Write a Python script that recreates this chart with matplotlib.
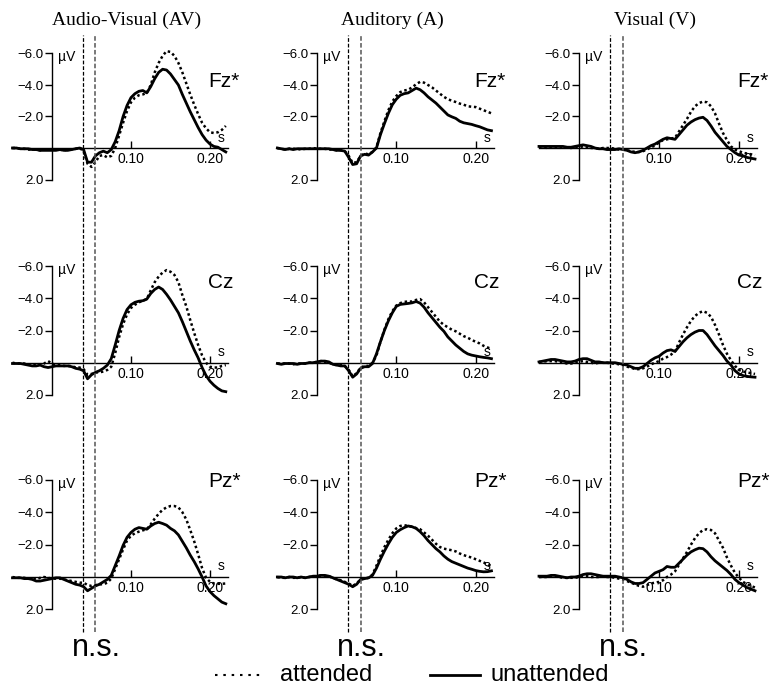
import matplotlib
matplotlib.use('Agg')
import matplotlib.pyplot as plt
import numpy as np
from matplotlib import font_manager as fm
from matplotlib.lines import Line2D
from matplotlib.transforms import blended_transform_factory

avail = {f.name for f in fm.fontManager.ttflist}
SANS = 'Liberation Sans Narrow' if 'Liberation Sans Narrow' in avail else 'Liberation Sans'
SERIF = 'Liberation Serif'

# ---------------- data ----------------
time_s = np.round(np.arange(-0.05, 0.2201, 0.005), 3)  # sample times (s)

conditions = ['Audio-Visual (AV)', 'Auditory (A)', 'Visual (V)']
electrodes = ['Fz*', 'Cz', 'Pz*']
y_ticks = [-6, -4, -2, 2]
y_tick_labels = ['\u22126.0', '\u22124.0', '\u22122.0', '2.0']
x_ticks = [0.10, 0.20]
x_tick_labels = ['0.10', '0.20']
window_s = [0.039, 0.055]
legend_labels = ['attended', 'unattended']

# AV
av_fz_att = [0.0, 0.0, 0.05, 0.05, 0.1, 0.1, 0.1, 0.15, 0.1, 0.1, 0.1, 0.1, 0.1, 0.15, 0.1, 0.1, 0.05, 0.0,
             0.2, 1.0, 1.2, 0.9, 0.5, 0.45, 0.6, 0.5, 0.0, -0.8, -1.6, -2.35, -2.9, -3.2, -3.35, -3.4, -3.5,
             -4.0, -4.8, -5.4, -5.85, -6.15, -6.1, -5.85, -5.4, -4.8, -4.1, -3.4, -2.75, -2.15, -1.6, -1.25,
             -1.0, -0.95, -1.0, -1.15, -1.4]
av_fz_unatt = [0.0, 0.0, 0.05, 0.05, 0.05, 0.1, 0.1, 0.15, 0.15, 0.15, 0.15, 0.15, 0.1, 0.15, 0.15, 0.1, 0.05,
               0.0, 0.1, 0.9, 0.9, 0.5, 0.3, 0.2, 0.3, 0.1, -0.4, -1.1, -2.0, -2.7, -3.2, -3.45, -3.6, -3.65,
               -3.5, -3.9, -4.4, -4.8, -5.0, -4.95, -4.7, -4.35, -4.0, -3.4, -2.85, -2.3, -1.8, -1.3, -0.85,
               -0.5, -0.25, -0.1, -0.05, 0.1, 0.25]
av_cz_att = [0.0, 0.05, 0.05, 0.05, 0.1, 0.1, 0.15, 0.1, 0.05, -0.1, 0.05, 0.15, 0.15, 0.2, 0.2, 0.2, 0.3, 0.3,
             0.4, 0.75, 0.7, 0.6, 0.6, 0.55, 0.45, 0.25, -0.6, -1.6, -2.4, -3.0, -3.4, -3.6, -3.75, -3.85,
             -3.95, -4.5, -5.0, -5.35, -5.6, -5.75, -5.65, -5.45, -5.0, -4.2, -3.5, -2.65, -1.85, -1.1, -0.45,
             0.0, 0.25, 0.3, 0.3, 0.2, 0.15]
av_cz_unatt = [0.05, 0.05, 0.05, 0.1, 0.15, 0.2, 0.2, 0.15, 0.25, 0.3, 0.25, 0.2, 0.2, 0.2, 0.2, 0.25, 0.35, 0.4,
               0.5, 1.0, 0.75, 0.6, 0.5, 0.35, 0.15, -0.25, -1.1, -2.0, -2.75, -3.3, -3.6, -3.75, -3.82, -3.85,
               -3.95, -4.3, -4.55, -4.7, -4.55, -4.25, -3.9, -3.5, -3.1, -2.55, -1.95, -1.35, -0.8, -0.3, 0.3,
               0.8, 1.15, 1.4, 1.6, 1.75, 1.8]
av_pz_att = [0.0, 0.05, 0.05, 0.05, 0.1, 0.1, 0.15, 0.05, 0.0, 0.05, 0.1, 0.1, 0.1, 0.15, 0.2, 0.25, 0.3, 0.35,
             0.35, 0.5, 0.55, 0.5, 0.45, 0.45, 0.35, 0.1, -0.5, -1.1, -1.7, -2.25, -2.55, -2.7, -2.8, -2.88,
             -2.95, -3.25, -3.6, -3.9, -4.15, -4.3, -4.38, -4.38, -4.3, -4.0, -3.55, -2.9, -2.2, -1.4, -0.55,
             0.05, 0.3, 0.4, 0.42, 0.42, 0.4]
av_pz_unatt = [0.05, 0.05, 0.05, 0.1, 0.1, 0.15, 0.25, 0.25, 0.2, 0.15, 0.1, 0.05, 0.05, 0.15, 0.25, 0.35, 0.45,
               0.5, 0.6, 0.85, 0.7, 0.55, 0.45, 0.3, 0.15, -0.1, -0.7, -1.3, -1.95, -2.45, -2.75, -2.95, -3.05,
               -3.0, -2.95, -3.15, -3.3, -3.38, -3.3, -3.2, -3.0, -2.85, -2.6, -2.2, -1.8, -1.35, -0.95, -0.5,
               0.0, 0.55, 0.9, 1.15, 1.35, 1.55, 1.65]

# A
a_fz_att = [0.0, 0.05, 0.1, 0.05, 0.05, 0.05, 0.1, 0.05, 0.05, 0.0, 0.05, 0.05, 0.05, 0.1, 0.1, 0.15, 0.15, 0.2,
            0.5, 0.95, 0.9, 0.5, 0.35, 0.4, 0.25, -0.05, -0.95, -1.7, -2.4, -2.95, -3.3, -3.55, -3.65, -3.7,
            -3.85, -4.05, -4.2, -4.15, -4.0, -3.85, -3.65, -3.45, -3.25, -3.1, -3.0, -2.92, -2.82, -2.75, -2.65,
            -2.62, -2.6, -2.5, -2.4, -2.3, -2.2]
a_fz_unatt = [0.0, 0.05, 0.1, 0.05, 0.1, 0.05, 0.05, 0.05, 0.05, 0.05, 0.05, 0.05, 0.05, 0.05, 0.1, 0.15, 0.15,
              0.2, 0.6, 1.05, 1.0, 0.5, 0.4, 0.45, 0.25, 0.0, -0.85, -1.55, -2.2, -2.75, -3.1, -3.35, -3.45,
              -3.5, -3.65, -3.8, -3.7, -3.5, -3.25, -3.05, -2.85, -2.6, -2.35, -2.1, -1.98, -1.88, -1.7, -1.6,
              -1.55, -1.5, -1.42, -1.35, -1.25, -1.15, -1.1]
a_cz_att = [0.05, 0.05, 0.05, 0.05, 0.1, 0.05, 0.05, 0.05, 0.0, 0.0, -0.05, -0.1, -0.05, 0.0, 0.1, 0.15, 0.15,
            0.2, 0.45, 0.85, 0.65, 0.3, 0.2, 0.2, 0.0, -0.45, -1.3, -2.05, -2.7, -3.2, -3.55, -3.7, -3.78, -3.8,
            -3.8, -3.9, -3.95, -3.75, -3.45, -3.15, -2.85, -2.55, -2.35, -2.2, -2.05, -1.95, -1.8, -1.65, -1.55,
            -1.42, -1.3, -1.2, -1.05, -0.95, -0.85]
a_cz_unatt = [0.05, 0.1, 0.05, 0.05, 0.05, 0.1, 0.05, 0.05, 0.0, 0.0, -0.05, -0.1, -0.1, -0.05, 0.1, 0.15, 0.2,
              0.2, 0.5, 0.9, 0.7, 0.35, 0.25, 0.25, 0.05, -0.55, -1.3, -2.0, -2.6, -3.1, -3.5, -3.62, -3.65,
              -3.68, -3.72, -3.8, -3.7, -3.45, -3.1, -2.8, -2.5, -2.2, -1.95, -1.6, -1.35, -1.1, -0.9, -0.7,
              -0.55, -0.47, -0.42, -0.37, -0.33, -0.3, -0.25]
a_pz_att = [0.0, 0.05, 0.05, 0.0, 0.05, 0.05, 0.0, 0.05, 0.0, -0.05, -0.05, -0.1, -0.05, -0.05, 0.05, 0.15, 0.2,
            0.3, 0.4, 0.55, 0.4, 0.15, 0.1, 0.05, -0.15, -0.7, -1.3, -1.85, -2.3, -2.7, -3.0, -3.15, -3.2, -3.15,
            -3.1, -3.02, -2.95, -2.75, -2.55, -2.3, -2.05, -1.85, -1.75, -1.7, -1.65, -1.58, -1.45, -1.35, -1.27,
            -1.2, -1.1, -1.0, -0.9, -0.78, -0.68]
a_pz_unatt = [0.0, 0.0, 0.05, 0.0, 0.0, 0.05, 0.0, 0.05, 0.0, -0.05, -0.05, -0.1, -0.1, -0.05, 0.05, 0.15, 0.25,
              0.35, 0.45, 0.6, 0.45, 0.15, 0.1, 0.05, -0.1, -0.55, -1.1, -1.6, -2.05, -2.45, -2.75, -2.92, -3.05,
              -3.15, -3.1, -3.0, -2.8, -2.55, -2.25, -2.0, -1.75, -1.55, -1.3, -1.1, -0.95, -0.85, -0.75, -0.65,
              -0.55, -0.48, -0.4, -0.35, -0.32, -0.33, -0.38]

# V
v_fz_att = [-0.05, -0.05, 0.0, -0.05, -0.05, 0.0, -0.05, -0.05, 0.0, -0.05, -0.05, -0.1, -0.05, 0.0, 0.0, 0.05,
            0.0, 0.0, 0.0, 0.05, 0.1, 0.1, 0.15, 0.2, 0.25, 0.25, 0.2, 0.1, -0.05, -0.15, -0.35, -0.5, -0.55,
            -0.6, -0.65, -1.05, -1.45, -1.85, -2.3, -2.65, -2.85, -2.95, -2.9, -2.65, -2.2, -1.55, -0.95, -0.5,
            -0.1, 0.1, 0.2, 0.3, 0.35, 0.4, 0.45]
v_fz_unatt = [-0.1, -0.1, -0.1, -0.1, -0.1, -0.1, -0.1, -0.05, -0.05, -0.1, -0.15, -0.2, -0.15, -0.1, 0.0, 0.05,
              0.05, 0.1, 0.1, 0.1, 0.05, 0.1, 0.15, 0.25, 0.3, 0.25, 0.15, 0.0, -0.15, -0.25, -0.4, -0.55, -0.65,
              -0.6, -0.55, -0.85, -1.15, -1.45, -1.65, -1.8, -1.9, -1.95, -1.75, -1.4, -1.0, -0.7, -0.4, -0.1,
              0.1, 0.3, 0.45, 0.5, 0.6, 0.65, 0.7]
v_cz_att = [-0.05, -0.05, -0.1, -0.1, -0.1, -0.05, 0.0, 0.05, 0.05, 0.0, -0.05, -0.1, -0.05, 0.0, 0.05, 0.0, 0.0,
            0.0, 0.05, 0.05, 0.1, 0.15, 0.25, 0.3, 0.4, 0.4, 0.35, 0.25, 0.1, 0.0, -0.1, -0.25, -0.35, -0.5, -0.7,
            -1.25, -1.75, -2.2, -2.6, -2.9, -3.1, -3.2, -3.1, -2.85, -2.35, -1.75, -1.1, -0.55, -0.15, 0.2, 0.45,
            0.55, 0.6, 0.65, 0.7]
v_cz_unatt = [-0.05, -0.1, -0.15, -0.2, -0.2, -0.15, -0.1, -0.05, -0.05, -0.1, -0.2, -0.25, -0.25, -0.15, -0.05,
              -0.05, 0.0, 0.0, 0.0, 0.0, 0.05, 0.1, 0.15, 0.25, 0.35, 0.35, 0.25, 0.05, -0.15, -0.3, -0.4, -0.6,
              -0.75, -0.8, -0.7, -1.0, -1.3, -1.55, -1.75, -1.9, -2.0, -2.0, -1.75, -1.4, -1.05, -0.75, -0.45,
              -0.1, 0.15, 0.5, 0.7, 0.8, 0.85, 0.88, 0.9]
v_pz_att = [0.0, 0.0, 0.0, -0.05, -0.05, 0.0, 0.05, 0.05, 0.05, 0.05, 0.0, -0.05, -0.05, 0.0, 0.0, 0.0, -0.05,
            0.0, 0.0, 0.05, 0.1, 0.15, 0.25, 0.35, 0.45, 0.55, 0.6, 0.5, 0.4, 0.35, 0.3, 0.2, 0.0, -0.15, -0.35,
            -0.75, -1.15, -1.55, -2.0, -2.4, -2.7, -2.9, -2.95, -2.9, -2.7, -2.25, -1.8, -1.2, -0.7, -0.25, 0.05,
            0.3, 0.45, 0.55, 0.65]
v_pz_unatt = [-0.05, -0.05, -0.05, -0.1, -0.1, -0.05, 0.0, 0.05, 0.0, 0.0, -0.05, -0.15, -0.2, -0.2, -0.15, -0.1,
              -0.05, -0.05, -0.05, -0.05, 0.0, 0.05, 0.15, 0.3, 0.4, 0.4, 0.35, 0.15, -0.05, -0.25, -0.35, -0.45,
              -0.65, -0.6, -0.6, -0.85, -1.1, -1.35, -1.55, -1.68, -1.78, -1.75, -1.55, -1.25, -1.0, -0.8, -0.6,
              -0.4, -0.15, 0.15, 0.35, 0.5, 0.65, 0.75, 0.85]

attended = [[av_fz_att, a_fz_att, v_fz_att],
            [av_cz_att, a_cz_att, v_cz_att],
            [av_pz_att, a_pz_att, v_pz_att]]
unattended = [[av_fz_unatt, a_fz_unatt, v_fz_unatt],
              [av_cz_unatt, a_cz_unatt, v_cz_unatt],
              [av_pz_unatt, a_pz_unatt, v_pz_unatt]]

# ---------------- layout (pixels) ----------------
W, H = 778, 686
fig = plt.figure(figsize=(W / 100, H / 100), dpi=100)

col_x0 = [52, 317, 579]          # pixel x of t = 0
col_pps = [790, 793, 800]        # pixels per second
row_y0 = [148, 362.7, 577]       # pixel y of 0 uV (from top)
row_ppv = [15.75, 16.1, 16.2]    # pixels per uV
label_v = [-4.2, -5.0, -5.9]

XLIM = (-0.06, 0.235)
YLIM = (3.0, -7.0)

DOT = (0, (1.0, 1.1))
axes = [[None] * 3 for _ in range(3)]
for r in range(3):
    for c in range(3):
        left = col_x0[c] + XLIM[0] * col_pps[c]
        width = (XLIM[1] - XLIM[0]) * col_pps[c]
        top = row_y0[r] + YLIM[1] * row_ppv[r]
        height = (YLIM[0] - YLIM[1]) * row_ppv[r]
        ax = fig.add_axes([left / W, 1 - (top + height) / H, width / W, height / H])
        ax.patch.set_alpha(0)
        axes[r][c] = ax
        ax.set_xlim(*XLIM)
        ax.set_ylim(*YLIM)
        for s in ['top', 'right']:
            ax.spines[s].set_visible(False)
        ax.spines['left'].set_position(('data', 0))
        ax.spines['bottom'].set_position(('data', 0))
        ax.spines['left'].set_bounds(-6, 2)
        ax.spines['bottom'].set_bounds(-0.0505, 0.223)
        for s in ['left', 'bottom']:
            ax.spines[s].set_linewidth(1.0)
            ax.spines[s].set_color('black')
        ax.set_yticks(y_ticks)
        ax.set_yticklabels(y_tick_labels, fontsize=9.5, family=SANS)
        ax.set_xticks(x_ticks)
        ax.set_xticklabels(x_tick_labels, fontsize=10, family=SANS)
        ax.tick_params(axis='y', direction='out', length=5, width=1.0, pad=1)
        ax.tick_params(axis='x', direction='in', length=5, width=1.0, pad=3)
        ax.plot(time_s, attended[r][c], color='black', lw=1.8, linestyle=DOT,
                solid_capstyle='butt', zorder=3)
        ax.plot(time_s, unattended[r][c], color='black', lw=2.0, zorder=4)
        ax.text(0.008, -5.75, 'µV', fontsize=10, family=SANS, ha='left', va='center')
        ax.text(0.214, -0.65, 's', fontsize=10, family=SANS, ha='center', va='center')
        ax.text(0.198, label_v[r], electrodes[r], fontsize=15, family=SANS, ha='left', va='center')

# dashed window lines spanning all rows
y_top = 1 - 35 / H
y_bot = 1 - 632 / H
for c in range(3):
    tr = blended_transform_factory(axes[0][c].transData, fig.transFigure)
    fig.add_artist(Line2D([window_s[0]] * 2, [y_bot, y_top], transform=tr, color='black',
                          lw=0.9, linestyle=(0, (3, 1.5))))
    fig.add_artist(Line2D([window_s[1]] * 2, [y_bot, y_top], transform=tr, color='#555555',
                          lw=1.1, linestyle=(0, (3, 1.5))))
    fig.text(0.095, 1 - 20 / H, conditions[c], transform=tr, fontsize=14, family=SERIF,
             ha='center', va='center')
    fig.text(0.056, 1 - 648 / H, 'n.s.', transform=tr, fontsize=22, family=SANS,
             ha='center', va='center')

# legend
ly = 1 - 675 / H
lb = 1 - 681 / H
fig.add_artist(Line2D([215 / W, 263 / W], [ly, ly], color='black', lw=1.5,
                      linestyle=(0, (1.2, 2.8))))
fig.text(280 / W, lb, legend_labels[0], fontsize=17, family=SANS, ha='left', va='baseline')
fig.add_artist(Line2D([430 / W, 480 / W], [ly, ly], color='black', lw=2.0))
fig.text(490 / W, lb, legend_labels[1], fontsize=17, family=SANS, ha='left', va='baseline')

fig.savefig('out.png', dpi=100)
